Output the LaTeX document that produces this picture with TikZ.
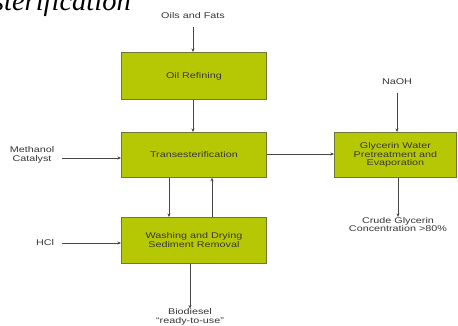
\documentclass[tikz,border=0pt]{standalone}
\usepackage{fontspec}
\setmainfont[FakeStretch=1.3]{Liberation Sans}
\newfontfamily\titlefont{Liberation Serif}
\usetikzlibrary{arrows.meta}
\definecolor{boxfill}{RGB}{182,200,4}
\definecolor{boxline}{RGB}{110,120,60}
\definecolor{txt}{RGB}{55,55,55}
\definecolor{arr}{RGB}{70,70,70}
\begin{document}
\begin{tikzpicture}[x=1pt,y=1pt,
  procbox/.style={draw=boxline,line width=0.8pt,fill=boxfill,inner sep=0pt,anchor=north west,text=txt,font=\fontsize{8.3}{8.8}\selectfont,align=center},
  lbl/.style={text=txt,font=\fontsize{8.3}{8.8}\selectfont,align=center,inner sep=0pt},
  flow/.style={draw=arr,line width=0.7pt,-{Stealth[length=3.5pt,width=3pt]}}]
\useasboundingbox (0,0) rectangle (458,-326);
\fill[white] (0,0) rectangle (458,-326);
\node[anchor=base east,inner sep=0pt,font=\titlefont\itshape\fontsize{28.5}{28.5}\selectfont,text=black] (title) at (131,-11) {Transesterification};
\node[procbox,minimum width=145pt,minimum height=47pt] (ref) at (121,-52) {Oil Refining};
\node[procbox,minimum width=145pt,minimum height=45pt] (trans) at (121,-132) {Transesterification};
\node[procbox,minimum width=145pt,minimum height=46pt] (wash) at (121,-217) {Washing and Drying\\Sediment Removal};
\node[procbox,minimum width=122pt,minimum height=45pt] (gly) at (334,-132) {Glycerin Water\\Pretreatment and\\Evaporation};
\node[lbl] (oils) at (193,-16) {Oils and Fats};
\node[lbl] (meth) at (32,-155) {Methanol\\Catalyst};
\node[lbl] (hcl) at (45,-243) {HCl};
\node[lbl] (naoh) at (397,-82) {NaOH};
\node[lbl] (bio) at (190,-317) {Biodiesel\\``ready-to-use''};
\node[lbl] (crude) at (398,-224.5) {Crude Glycerin\\Concentration >80\%};
\coordinate (oilsend) at (193,-27);
\coordinate (methend) at (62,-158);
\coordinate (hclend) at (62,-243);
\coordinate (naohend) at (397,-93);
\draw[flow] (oilsend) -- (oilsend |- ref.north);
\draw[flow] (ref.south -| oilsend) -- (oilsend |- trans.north);
\draw[flow] (trans.south -| 169,0) -- (169,0 |- wash.north);
\draw[flow] (wash.north -| 212,0) -- (212,0 |- trans.south);
\draw[flow] (methend) -- (methend -| trans.west);
\draw[flow] (hclend) -- (hclend -| wash.west);
\draw[flow] (trans.east |- 0,-154) -- (gly.west |- 0,-154);
\draw[flow] (naohend) -- (naohend |- gly.north);
\draw[flow] (gly.south -| 398,0) -- (398,0 |- crude.north);
\draw[flow] (wash.south -| 190,0) -- (190,0 |- bio.north);
\end{tikzpicture}
\end{document}
